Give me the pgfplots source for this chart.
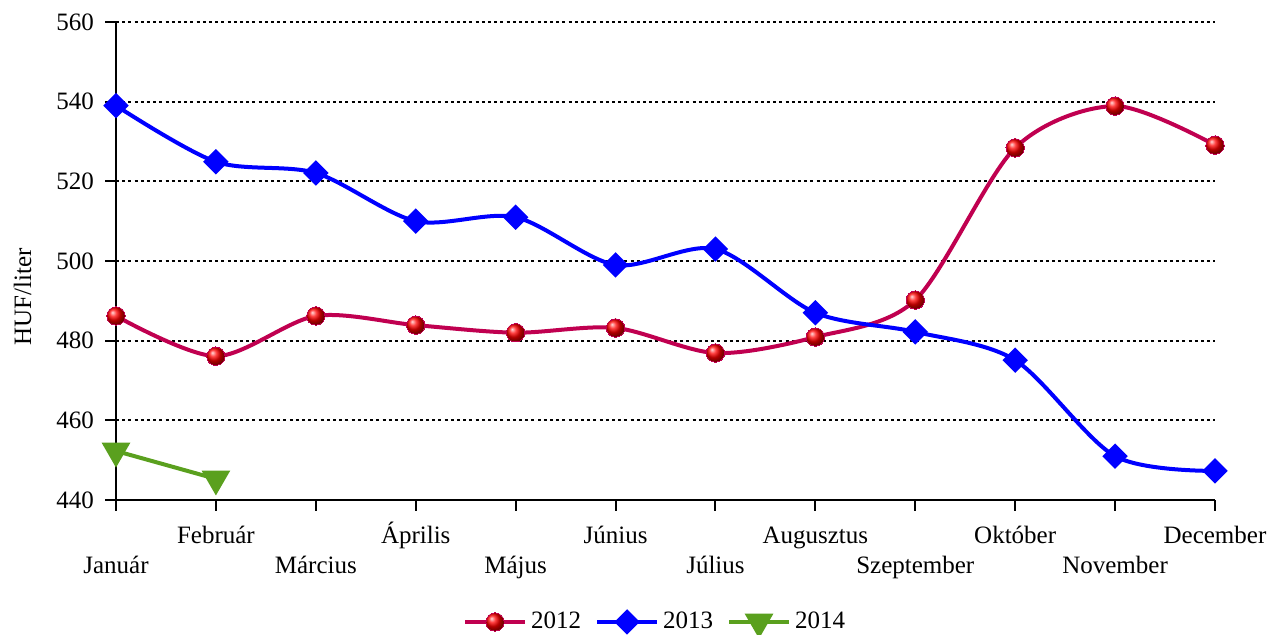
\documentclass[border=0pt]{standalone}
\usepackage{pgfplots}
\pgfplotsset{compat=1.18}
\usepackage{fontspec}
\setmainfont{Liberation Serif}
\definecolor{c2012}{RGB}{192,0,80}
\definecolor{c2013}{RGB}{0,0,255}
\definecolor{c2014}{RGB}{90,160,30}
\newcommand{\low}[1]{\raisebox{-15pt}{#1}}
\begin{document}
\begin{tikzpicture}
\useasboundingbox (-58pt,-67.5pt) rectangle (577.5pt,250pt);
\begin{axis}[
  at={(0,0)}, anchor=south west,
  scale only axis,
  width=549.5pt, height=239pt,
  xmin=0, xmax=11, ymin=440, ymax=560,
  ytick={440,460,...,560},
  xtick={0,...,11},
  xticklabels={{\low{Január}},{Február},{\low{Március}},{Április},{\low{Május}},{Június},{\low{Július}},{Augusztus},{\low{Szeptember}},{Október},{\low{November}},{December}},
  axis x line=bottom, axis y line=left,
  axis line style={-, line width=1pt, black},
  tick align=outside,
  major tick length=5.5pt,
  tick style={line width=1pt, black},
  ymajorgrids,
  grid style={black, line width=0.9pt, dash pattern=on 1.5pt off 1.6pt},
  font=\fontsize{12.5}{15}\selectfont,
  /pgf/number format/assume math mode=true,
  xticklabel style={anchor=base, yshift=-16.2pt, font=\fontsize{12.5}{15}\selectfont},
  yticklabel style={font=\fontsize{12.5}{15}\selectfont, xshift=-2pt},
  ylabel={HUF/liter},
  ylabel style={font=\fontsize{12.5}{15}\selectfont, at={(axis description cs:-0.0773,0.4247)}, anchor=base, rotate=0},
  legend style={at={(0.4914,-0.2552)}, anchor=center, draw=none, legend columns=3,
    font=\fontsize{12.5}{15}\selectfont,
    /tikz/every even column/.append style={column sep=5pt}},
  legend image code/.code={\draw[#1, mark repeat=2, mark phase=2] plot coordinates {(0pt,0pt)(15pt,0pt)(30pt,0pt)};},
  clip=false,
]
\addplot[c2012, line width=2pt, smooth, mark=ball, mark size=4.6pt, mark options={ball color=red, line width=0pt}]
  coordinates {(0,486.2)(1,476.1)(2,486.2)(3,483.9)(4,482.0)(5,483.2)(6,476.9)(7,480.9)(8,490.2)(9,528.4)(10,538.9)(11,529.1)};
\addlegendentry{2012}
\addplot[c2013, line width=2pt, smooth, mark=square*, mark size=3.5pt, mark options={rotate=45, solid}]
  coordinates {(0,539.0)(1,524.9)(2,522.1)(3,510.0)(4,511.0)(5,499.0)(6,503.0)(7,487.0)(8,482.2)(9,475.1)(10,451.0)(11,447.3)};
\addlegendentry{2013}
\addplot[c2014, line width=2pt, mark=triangle*, mark size=6.3pt, mark options={rotate=180, solid}]
  coordinates {(0,452.3)(1,445.3)};
\addlegendentry{2014}
\end{axis}
\end{tikzpicture}
\end{document}
